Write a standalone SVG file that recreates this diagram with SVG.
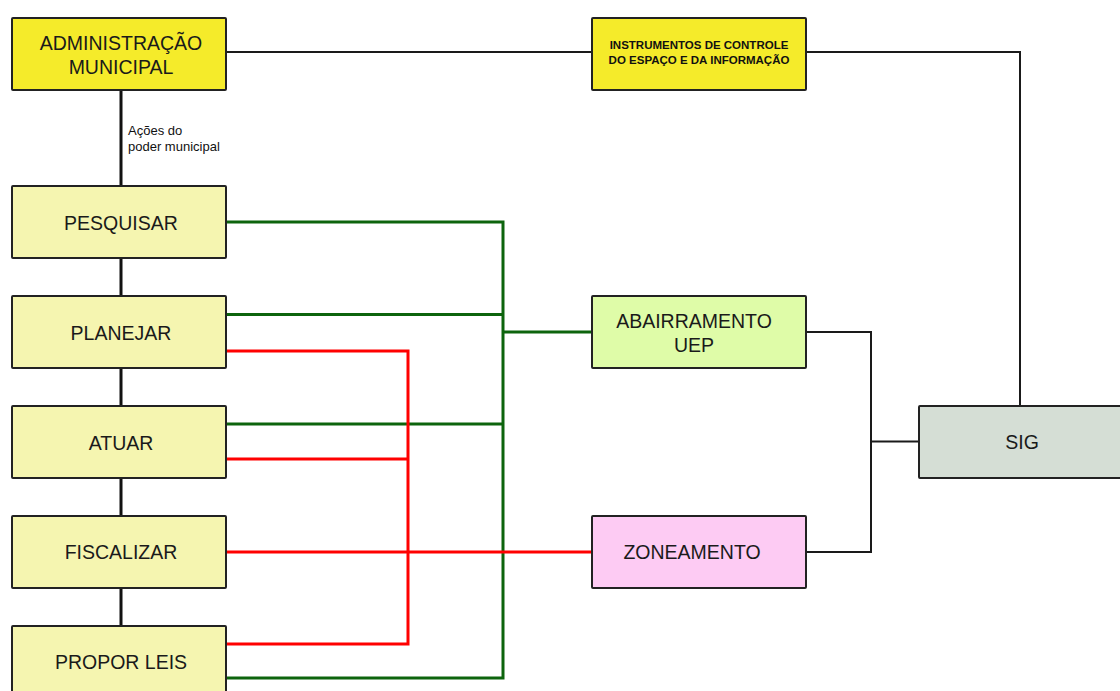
<svg xmlns="http://www.w3.org/2000/svg" width="1120" height="691" viewBox="0 0 1120 691">
<style>
.box{stroke:#222;stroke-width:2}
.t{font-family:"Liberation Sans",Arial,sans-serif;font-size:19.5px;fill:#1a1a1a;text-anchor:middle}
.tb{font-family:"Liberation Sans",Arial,sans-serif;font-size:11.5px;font-weight:bold;fill:#111;text-anchor:middle}
.lbl{font-family:"Liberation Sans",Arial,sans-serif;font-size:13px;fill:#111}
.blk{fill:none;stroke:#111;stroke-width:3}
.thin{fill:none;stroke:#1a1a1a;stroke-width:2}
.grn{fill:none;stroke:#0d640d;stroke-width:3}
.red{fill:none;stroke:#ff0000;stroke-width:3}
.act{fill:#f5f5b0}
</style>
<rect width="1120" height="691" fill="#ffffff"/>
<g id="connectors">
<path class="blk" d="M121 90 V626"/>
<path class="thin" d="M226 52 H592 M806 52 H1020 V406"/>
<path class="thin" d="M806 332 H871 V552 H806 M871 441.5 H919"/>
<path class="grn" d="M226 222 H503 V678 H226 M226 314.5 H503 M226 424 H503 M503 332 H592"/>
<path class="red" d="M226 351 H408 V644 H226 M226 459 H408 M226 552 H592"/>
<text class="lbl" x="128" y="135">Ações do</text>
<text class="lbl" x="128" y="151">poder municipal</text>
</g>
<g id="admin">
<rect class="box" x="12" y="18" width="214" height="72" rx="1" fill="#f5eb2a"/>
<text class="t" x="121" y="50">ADMINISTRAÇÃO</text>
<text class="t" x="121" y="74">MUNICIPAL</text>
</g>
<g id="instrumentos">
<rect class="box" x="592" y="18" width="214" height="72" rx="1" fill="#f5eb2a"/>
<text class="tb" x="699" y="49">INSTRUMENTOS DE CONTROLE</text>
<text class="tb" x="699" y="63.5">DO ESPAÇO E DA INFORMAÇÃO</text>
</g>
<g id="pesquisar">
<rect class="box act" x="12" y="186" width="214" height="72" rx="1"/>
<text class="t" x="121" y="230">PESQUISAR</text>
</g>
<g id="planejar">
<rect class="box act" x="12" y="296" width="214" height="72" rx="1"/>
<text class="t" x="121" y="340">PLANEJAR</text>
</g>
<g id="atuar">
<rect class="box act" x="12" y="406" width="214" height="72" rx="1"/>
<text class="t" x="121" y="450">ATUAR</text>
</g>
<g id="fiscalizar">
<rect class="box act" x="12" y="516" width="214" height="72" rx="1"/>
<text class="t" x="121" y="559">FISCALIZAR</text>
</g>
<g id="propor">
<rect class="box act" x="12" y="626" width="214" height="72" rx="1"/>
<text class="t" x="121" y="669">PROPOR LEIS</text>
</g>
<g id="abairramento">
<rect class="box" x="592" y="296" width="214" height="72" rx="1" fill="#dffca8"/>
<text class="t" x="694" y="328">ABAIRRAMENTO</text>
<text class="t" x="694" y="351.5">UEP</text>
</g>
<g id="zoneamento">
<rect class="box" x="592" y="516" width="214" height="72" rx="1" fill="#fdcbf3"/>
<text class="t" x="692" y="558.5">ZONEAMENTO</text>
</g>
<g id="sig">
<rect class="box" x="919" y="406" width="214" height="72" rx="1" fill="#d5ded5"/>
<text class="t" x="1022" y="449">SIG</text>
</g>
</svg>
